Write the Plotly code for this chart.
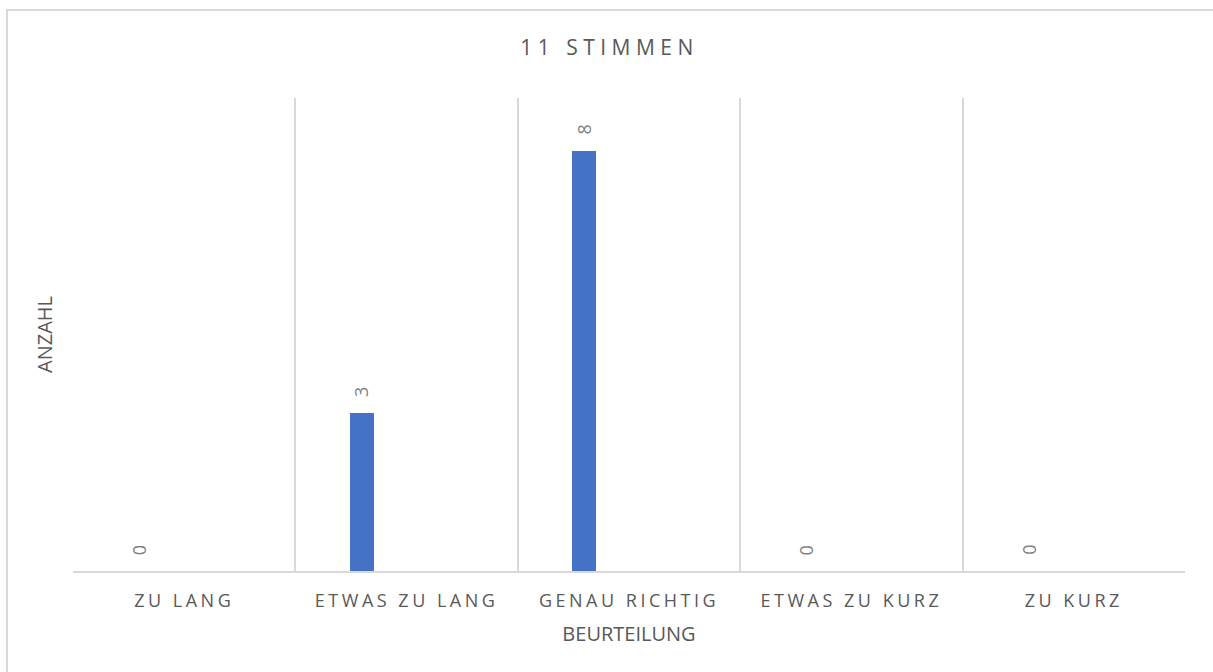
import plotly.graph_objects as go

categories = ["ZU LANG", "ETWAS ZU LANG", "GENAU RICHTIG", "ETWAS ZU KURZ", "ZU KURZ"]
votes = [0, 3, 8, 0, 0]
chart_title = "11 STIMMEN"
x_title = "BEURTEILUNG"
y_title = "ANZAHL"

BAR_COLOR = "#4472C4"
GRID = "#d9d9d9"
TEXT = "#595959"
LABEL = "#7f7f7f"
FONT = "Open Sans"

W, H = 1213, 672
L, R, T, B = 73, 28, 98, 101
pw, ph = W - L - R, H - T - B

fig = go.Figure()
fig.add_trace(go.Bar(
    x=categories, y=votes,
    width=0.108, offset=-0.256,
    marker=dict(color=BAR_COLOR, line=dict(width=0)),
    hoverinfo="x+y", showlegend=False,
))

for c, v in zip(categories, votes):
    fig.add_annotation(
        x=c, y=v, xref="x", yref="y",
        text=str(v), showarrow=False, textangle=-90,
        xshift=-45, yshift=21, yanchor="middle", xanchor="center",
        font=dict(family=FONT, size=18, color=LABEL),
    )

# outer chart border (right/bottom edges fall outside the picture)
fig.add_shape(
    type="rect", xref="paper", yref="paper",
    x0=(7 - L) / pw, x1=(W + 10 - L) / pw,
    y0=-(H + 10 - (T + ph)) / ph, y1=(T + ph - 10) / ph,
    line=dict(color=GRID, width=2), fillcolor="rgba(0,0,0,0)", layer="below",
)

fig.update_layout(
    width=W, height=H,
    margin=dict(l=L, r=R, t=T, b=B),
    paper_bgcolor="white", plot_bgcolor="white",
    font=dict(family=FONT, color=TEXT),
    title=dict(text=chart_title, x=0.5 + 3 / W, xanchor="center", y=1 - 48 / H, yanchor="middle",
               font=dict(family=FONT, size=21, color=TEXT)),
    bargap=0,
    xaxis=dict(
        type="category", tickson="boundaries",
        showgrid=True, gridcolor=GRID, gridwidth=1.5,
        showline=True, linecolor=GRID, linewidth=2,
        ticks="", tickfont=dict(family=FONT, size=18, color=TEXT),
        ticklabelstandoff=12,
        title=dict(text=x_title, font=dict(family=FONT, size=20, color=TEXT), standoff=16),
        range=[-0.5, 4.5], fixedrange=True,
    ),
    yaxis=dict(
        range=[0, 9], showgrid=False, zeroline=False, showline=False,
        showticklabels=False, ticks="",
        title=dict(text=y_title, font=dict(family=FONT, size=20, color=TEXT), standoff=14),
        fixedrange=True,
    ),
)

post = """
document.body.style.margin = '0';
document.body.style.padding = '0';
var gd = document.getElementById('{plot_id}');
function spacing(){
  gd.querySelectorAll('.gtitle').forEach(function(e){ e.style.letterSpacing='5.5px'; });
  gd.querySelectorAll('.xtick text').forEach(function(e){ e.style.letterSpacing='3.5px'; });
}
spacing();
gd.on && gd.on('plotly_afterplot', spacing);
"""

fig.write_html("out.html", post_script=post, config={"displayModeBar": False})
